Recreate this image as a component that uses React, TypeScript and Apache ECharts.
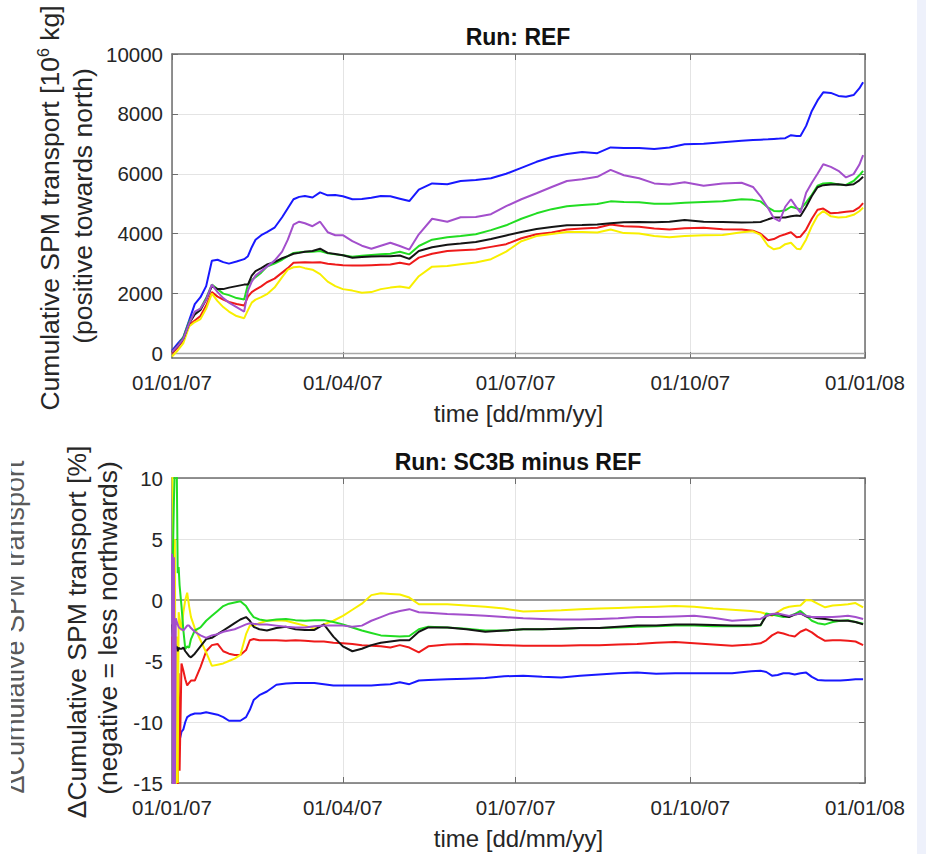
import React, { useEffect, useRef } from 'react';
import * as echarts from 'echarts';

// ---------- axis ticks ----------
const xTickDays = [0, 90, 181, 273, 365];
const xTickLabels = ['01/01/07', '01/04/07', '01/07/07', '01/10/07', '01/01/08'];
const topYTicks = [0, 2000, 4000, 6000, 8000, 10000];
const bottomYTicks = [-15, -10, -5, 0, 5, 10];

// ---------- top panel: cumulative transport (days since 01/01/07) ----------
const topDays = [0, 3, 6, 9, 12, 15, 18, 21, 24, 27,
  30, 34, 38, 40, 42, 44, 47, 50, 54, 58,
  61, 64, 67, 70, 74, 78, 82, 86, 90, 95,
  100, 105, 110, 115, 120, 125, 130, 137, 145, 152,
  160, 168, 176, 184, 192, 200, 208, 216, 224, 231,
  238, 246, 254, 262, 270, 280, 290, 300, 306, 310,
  314, 317, 320, 323, 326, 329, 331, 334, 337, 340,
  343, 347, 351, 355, 359, 362, 364];
const topBlue = [100, 330, 550, 1100, 1650, 1880, 2250, 3100, 3130, 3050,
  3000, 3070, 3150, 3250, 3550, 3800, 3950, 4050, 4200, 4550,
  4850, 5150, 5230, 5260, 5210, 5380, 5280, 5290, 5250, 5150,
  5160, 5200, 5260, 5250, 5170, 5090, 5470, 5680, 5650, 5760,
  5790, 5850, 6000, 6200, 6400, 6560, 6660, 6730, 6690, 6880,
  6860, 6860, 6830, 6880, 6990, 7000, 7050, 7100, 7130, 7140,
  7150, 7165, 7175, 7190, 7290, 7260, 7260, 7600, 8100, 8450,
  8720, 8700, 8600, 8570, 8630, 8850, 9060];
const topPurple = [50, 250, 500, 1000, 1400, 1500, 1800, 2300, 2050, 1850,
  1700, 1550, 1400, 2100, 2400, 2600, 2750, 2900, 3100, 3400,
  3800, 4300, 4400, 4350, 4250, 4400, 4050, 3950, 3950, 3750,
  3600, 3500, 3600, 3700, 3590, 3470, 3980, 4500, 4400, 4550,
  4560, 4650, 4920, 5150, 5350, 5560, 5760, 5820, 5900, 6130,
  5950, 5850, 5680, 5640, 5720, 5600, 5680, 5700, 5560, 5250,
  4850, 4520, 4420, 4900, 5150, 4870, 4700, 5370, 5700, 6000,
  6320, 6230, 6100, 5880, 5990, 6300, 6620];
const topGreen = [50, 250, 550, 1050, 1350, 1500, 1850, 2300, 2150, 2000,
  1950, 1850, 1800, 2300, 2450, 2550, 2700, 2900, 3000, 3130,
  3250, 3360, 3380, 3400, 3400, 3420, 3350, 3310, 3280, 3230,
  3260, 3290, 3310, 3330, 3400, 3310, 3590, 3800, 3880, 3920,
  3980, 4120, 4280, 4500, 4680, 4820, 4920, 4960, 4990, 5080,
  5060, 5050, 5000, 5000, 5030, 5060, 5080, 5150, 5130, 5080,
  4870, 4760, 4750, 4780, 4900, 4850, 4810, 5050, 5300, 5600,
  5680, 5690, 5640, 5630, 5760, 5950, 6100];
const topBlack = [50, 250, 500, 1000, 1300, 1450, 1800, 2250, 2150, 2150,
  2200, 2250, 2300, 2300, 2600, 2750, 2850, 2970, 3050, 3180,
  3250, 3330, 3360, 3400, 3420, 3500, 3360, 3320, 3280, 3200,
  3220, 3240, 3250, 3250, 3270, 3160, 3420, 3550, 3630, 3670,
  3720, 3820, 3940, 4060, 4160, 4220, 4280, 4290, 4310, 4350,
  4380, 4390, 4380, 4400, 4460, 4400, 4390, 4370, 4380, 4390,
  4480, 4540, 4540, 4540, 4580, 4610, 4590, 4900, 5260, 5550,
  5620, 5640, 5650, 5620, 5650, 5780, 5900];
const topRed = [0, 200, 450, 950, 1100, 1250, 1600, 2050, 1900, 1800,
  1720, 1650, 1600, 1900, 2050, 2130, 2240, 2380, 2500, 2700,
  2850, 3030, 3040, 3050, 3040, 3050, 3000, 2970, 2950, 2940,
  2940, 2950, 2960, 2970, 3030, 2970, 3200, 3330, 3420, 3450,
  3470, 3560, 3650, 3850, 3980, 4040, 4140, 4170, 4200, 4310,
  4250, 4230, 4170, 4140, 4180, 4200, 4150, 4140, 4100, 4000,
  3780, 3820, 3920, 3980, 4050, 3880, 3900, 4140, 4500, 4800,
  4840, 4680, 4700, 4730, 4760, 4880, 5020];
const topYellow = [-100, 100, 350, 900, 1050, 1150, 1500, 2000, 1750, 1550,
  1400, 1250, 1180, 1450, 1700, 1800, 1880, 1980, 2200, 2550,
  2800, 2880, 2900, 2850, 2800, 2650, 2400, 2250, 2150, 2100,
  2030, 2050, 2150, 2200, 2240, 2190, 2580, 2900, 2920, 2980,
  3040, 3150, 3400, 3750, 3920, 3990, 4060, 4060, 4040, 4140,
  4020, 4010, 3920, 3880, 3920, 3950, 3960, 4050, 4080, 3960,
  3590, 3480, 3520, 3650, 3700, 3500, 3480, 3810, 4250, 4600,
  4760, 4580, 4540, 4560, 4630, 4750, 4870];

// ---------- bottom panel: difference SC3B minus REF [%] ----------
const bottomDays = [0, 0.5, 1, 1.5, 2, 2.5, 3, 3.5, 4, 5,
  6, 7, 8, 9, 10, 12, 15, 18, 21, 24,
  27, 30, 33, 36, 39, 41, 43, 46, 50, 55,
  60, 65, 70, 75, 80, 85, 90, 95, 100, 105,
  110, 115, 120, 125, 130, 135, 145, 155, 165, 175,
  185, 195, 205, 215, 225, 235, 245, 255, 265, 275,
  285, 295, 305, 310, 313, 316, 319, 322, 325, 328,
  331, 334, 337, 340, 344, 348, 352, 356, 360, 364];
const diffBlue = [-16, -16, -16, -15, -14, -13, -12, -11.8, -11.5, -10.8,
  -10.6, -10.0, -9.6, -9.5, -9.4, -9.3, -9.3, -9.2, -9.3, -9.4,
  -9.6, -9.9, -9.9, -9.9, -9.6, -9.0, -8.2, -7.8, -7.5, -6.95,
  -6.85, -6.8, -6.8, -6.8, -6.9, -7.0, -7.0, -7.0, -7.0, -7.0,
  -6.95, -6.9, -6.75, -6.9, -6.6, -6.55, -6.5, -6.45, -6.4, -6.25,
  -6.2, -6.3, -6.35, -6.2, -6.1, -6.0, -5.95, -6.05, -6.0, -6.0,
  -6.0, -6.0, -5.85, -5.8, -5.9, -6.2, -6.15, -6.0, -6.0, -6.1,
  -6.0, -5.95, -6.3, -6.55, -6.6, -6.6, -6.6, -6.55, -6.5, -6.5];
const diffRed = [-3, -8, -12, -15, -16, -9, -16, -6, -14, -5.2,
  -5.8, -6.5, -7.0, -6.8, -6.6, -6.6, -5.5, -4.2, -3.7, -3.6,
  -4.2, -4.4, -4.5, -4.5, -4.1, -3.3, -3.2, -3.3, -3.3, -3.3,
  -3.35, -3.3, -3.35, -3.4, -3.4, -3.5, -3.55, -3.6, -3.7, -3.75,
  -3.8, -3.9, -3.7, -3.9, -4.3, -3.8, -3.65, -3.6, -3.65, -3.7,
  -3.75, -3.75, -3.75, -3.7, -3.7, -3.65, -3.6, -3.5, -3.45, -3.55,
  -3.65, -3.75, -3.65, -3.55, -3.3, -2.9, -2.65, -2.75, -2.9, -3.0,
  -2.6, -2.4, -2.65, -3.0, -3.35, -3.3, -3.3, -3.35, -3.4, -3.7];
const diffBlack = [-2, -3, -2.5, -3.5, -4, -3.8, -4.2, -3.9, -4.0, -4.0,
  -3.9, -4.2, -4.4, -4.6, -4.7, -4.4, -3.8, -3.2, -3.1, -2.8,
  -2.5, -2.2, -1.9, -1.6, -1.4, -1.7, -2.2, -2.4, -2.5, -2.3,
  -2.2, -2.4, -2.45, -2.45, -2.0, -3.0, -3.8, -4.2, -4.0, -3.7,
  -3.5, -3.4, -3.3, -3.3, -2.6, -2.25, -2.25, -2.4, -2.6, -2.5,
  -2.4, -2.4, -2.35, -2.3, -2.3, -2.2, -2.1, -2.1, -2.0, -2.0,
  -2.05, -2.1, -2.1, -2.05, -1.3, -1.2, -1.1, -1.3, -1.4, -1.2,
  -1.1, -1.35, -1.4, -1.5, -1.55, -1.65, -1.7, -1.7, -1.8, -2.0];
const diffGreen = [0, 4, 8, 11, 12, 11, 2.2, 2.7, 1.2, -0.5,
  -2.5, -4.0, -3.8, -3.9, -3.2, -2.5, -2.25, -1.7, -1.3, -0.9,
  -0.5, -0.3, -0.2, -0.1, -0.5, -1.0, -1.4, -1.6, -1.7, -1.6,
  -1.55, -1.65, -1.7, -1.65, -1.65, -1.8, -2.0, -2.25, -2.5, -2.7,
  -2.9, -2.95, -3.0, -2.95, -2.4, -2.2, -2.25, -2.35, -2.5, -2.5,
  -2.4, -2.4, -2.35, -2.3, -2.3, -2.25, -2.2, -2.15, -2.1, -2.1,
  -2.15, -2.15, -2.15, -2.1, -1.1, -1.2, -1.3, -1.4, -1.35, -1.15,
  -0.9, -1.3, -1.7, -1.9, -2.0, -1.8, -1.7, -1.65, -1.8, -1.95];
const diffPurple = [3.8, -16, 3.5, -16, -1.5, -1.8, -2.0, -2.2, -2.3, -2.4,
  -2.5, -2.3, -2.1, -2.1, -2.3, -2.6, -2.9, -3.1, -2.9, -2.8,
  -2.6, -2.5, -2.4, -2.2, -2.0, -1.9, -1.95, -2.0, -2.0, -2.1,
  -2.2, -2.25, -2.25, -2.15, -2.1, -2.1, -2.1, -2.2, -2.1, -1.7,
  -1.4, -1.1, -0.9, -0.75, -1.0, -1.05, -1.15, -1.2, -1.3, -1.4,
  -1.5, -1.55, -1.6, -1.6, -1.55, -1.5, -1.4, -1.4, -1.35, -1.3,
  -1.45, -1.7, -1.6, -1.55, -1.3, -1.15, -1.1, -1.2, -1.3, -1.2,
  -1.1, -1.3, -1.4, -1.4, -1.4, -1.4, -1.35, -1.3, -1.4, -1.55];
const diffYellow = [12, 8, -16, 5, -16, -3, -15, -1, -1.5, -2.5,
  -1.0, 0.0, 0.6, -0.5, -1.4, -2.3, -3.3, -4.3, -5.4, -5.3,
  -5.2, -5.0, -4.8, -4.5, -2.8, -2.1, -2.1, -1.9, -1.7, -1.65,
  -1.7, -1.9, -2.1, -2.35, -2.0, -1.7, -1.3, -0.8, -0.3, 0.4,
  0.55, 0.5, 0.45, 0.2, -0.35, -0.35, -0.35, -0.45, -0.55, -0.7,
  -0.95, -0.9, -0.85, -0.75, -0.7, -0.65, -0.6, -0.55, -0.5, -0.55,
  -0.7, -0.8, -0.9, -1.0, -1.15, -1.3, -1.0, -0.7, -0.55, -0.5,
  -0.45, 0.0, -0.05, -0.3, -0.6, -0.45, -0.4, -0.35, -0.25, -0.6];

const COLORS = {
  blue: '#1818ff',
  red: '#ee1a1a',
  yellow: '#f8ef00',
  green: '#22dd22',
  black: '#151515',
  purple: '#a34fcc',
};

const FONT = '"Liberation Sans", Arial, Helvetica, sans-serif';
const AXIS_COLOR = '#6e6e6e';
const GRID_COLOR = '#e4e4e4';
const LABEL_COLOR = '#262626';

function tickLabel(v: number) {
  const i = xTickDays.indexOf(Math.round(v));
  return i >= 0 ? xTickLabels[i] : '';
}

function makeXAxes(gridIndex: number) {
  return [
    {
      type: 'value', gridIndex, min: 0, max: 365, position: 'bottom',
      axisLine: { show: true, onZero: false, lineStyle: { color: AXIS_COLOR, width: 1.5 } },
      axisTick: { show: true, inside: true, length: 6, customValues: xTickDays, lineStyle: { color: AXIS_COLOR } },
      axisLabel: {
        show: true, customValues: xTickDays, formatter: (v: number) => tickLabel(v),
        fontSize: 20.5, color: LABEL_COLOR, fontFamily: FONT, margin: 14,
      },
      splitLine: { show: true, lineStyle: { color: GRID_COLOR, width: 1 } },
      name: 'time [dd/mm/yy]', nameLocation: 'middle', nameGap: 43,
      nameTextStyle: { fontSize: 24, color: LABEL_COLOR, fontFamily: FONT },
    },
    {
      type: 'value', gridIndex, min: 0, max: 365, position: 'top',
      axisLine: { show: true, onZero: false, lineStyle: { color: AXIS_COLOR, width: 1.5 } },
      axisTick: { show: true, inside: true, length: 6, customValues: xTickDays, lineStyle: { color: AXIS_COLOR } },
      axisLabel: { show: false },
      splitLine: { show: false },
    },
  ];
}

function makeYAxes(gridIndex: number, min: number, max: number, ticks: number[]) {
  return [
    {
      type: 'value', gridIndex, min, max, position: 'left',
      axisLine: { show: true, onZero: false, lineStyle: { color: AXIS_COLOR, width: 1.5 } },
      axisTick: { show: true, inside: true, length: 6, customValues: ticks, lineStyle: { color: AXIS_COLOR } },
      axisLabel: {
        show: true, customValues: ticks, formatter: (v: number) => String(v),
        fontSize: 20.5, color: LABEL_COLOR, fontFamily: FONT, margin: 9,
      },
      splitLine: { show: true, lineStyle: { color: GRID_COLOR, width: 1 } },
    },
    {
      type: 'value', gridIndex, min, max, position: 'right',
      axisLine: { show: true, onZero: false, lineStyle: { color: AXIS_COLOR, width: 1.5 } },
      axisTick: { show: true, inside: true, length: 6, customValues: ticks, lineStyle: { color: AXIS_COLOR } },
      axisLabel: { show: false },
      splitLine: { show: false },
    },
  ];
}

function lineSeries(name: string, days: number[], vals: number[], color: string, axisIdx: number) {
  return {
    type: 'line', name,
    xAxisIndex: axisIdx, yAxisIndex: axisIdx,
    data: days.map((d, i) => [d, vals[i]]),
    showSymbol: false, symbol: 'none', silent: true, clip: true,
    lineStyle: { color, width: 2 },
    itemStyle: { color },
  };
}

function zeroLine(axisIdx: number, color: string, width: number) {
  return {
    type: 'line', name: 'zero', xAxisIndex: axisIdx, yAxisIndex: axisIdx,
    data: [[0, 0], [365, 0]], showSymbol: false, symbol: 'none', silent: true,
    lineStyle: { color, width }, z: 1,
  };
}

function buildOption() {
  const topSets: [string, number[], string][] = [
    ['Blue', topBlue, COLORS.blue],
    ['Red', topRed, COLORS.red],
    ['Yellow', topYellow, COLORS.yellow],
    ['Green', topGreen, COLORS.green],
    ['Black', topBlack, COLORS.black],
    ['Purple', topPurple, COLORS.purple],
  ];
  const bottomSets: [string, number[], string][] = [
    ['Blue', diffBlue, COLORS.blue],
    ['Red', diffRed, COLORS.red],
    ['Yellow', diffYellow, COLORS.yellow],
    ['Green', diffGreen, COLORS.green],
    ['Black', diffBlack, COLORS.black],
    ['Purple', diffPurple, COLORS.purple],
  ];

  const yLabelRich = {
    a: { fontSize: 26.5, fontFamily: FONT, fill: LABEL_COLOR, lineHeight: 30 },
    s: { fontSize: 16, fontFamily: FONT, fill: LABEL_COLOR, verticalAlign: 'top', lineHeight: 16 },
  };

  return {
    animation: false,
    backgroundColor: '#ffffff',
    grid: [
      { left: 172, top: 54, width: 693, height: 304, containLabel: false },
      { left: 172, top: 478, width: 693, height: 305, containLabel: false },
    ],
    xAxis: [...makeXAxes(0), ...makeXAxes(1)].map((a, i) => ({ ...a, gridIndex: i < 2 ? 0 : 1 })),
    yAxis: [
      ...makeYAxes(0, -150, 10000, topYTicks),
      ...makeYAxes(1, -15, 10, bottomYTicks),
    ],
    series: [
      zeroLine(0, '#a8a8a8', 1.5),
      ...topSets.map(([n, v, c]) => lineSeries(n, topDays, v, c, 0)),
      zeroLine(2, '#9c9c9c', 2),
      ...bottomSets.map(([n, v, c]) => lineSeries(n, bottomDays, v, c, 2)),
    ],
    graphic: [
      { type: 'rect', shape: { x: 917, y: 0, width: 9, height: 854 }, style: { fill: '#eef1fb' }, silent: true },
      {
        type: 'text', x: 518, y: 37,
        style: { text: 'Run: REF', fontSize: 23, fontWeight: 'bold', fontFamily: FONT, fill: '#111', align: 'center', verticalAlign: 'middle' },
      },
      {
        type: 'text', x: 518, y: 462,
        style: { text: 'Run: SC3B minus REF', fontSize: 23, fontWeight: 'bold', fontFamily: FONT, fill: '#111', align: 'center', verticalAlign: 'middle' },
      },
      {
        type: 'text', x: 50, y: 208, rotation: Math.PI / 2,
        style: { text: '{a|Cumulative SPM transport [10}{s|6}{a| kg]}', rich: yLabelRich, align: 'center', verticalAlign: 'middle' },
      },
      {
        type: 'text', x: 83, y: 206, rotation: Math.PI / 2,
        style: { text: '(positive towards north)', fontSize: 26.5, fontFamily: FONT, fill: LABEL_COLOR, align: 'center', verticalAlign: 'middle' },
      },
      {
        type: 'text', x: 77, y: 632, rotation: Math.PI / 2,
        style: { text: '\u0394Cumulative SPM transport [%]', fontSize: 26.5, fontFamily: FONT, fill: LABEL_COLOR, align: 'center', verticalAlign: 'middle' },
      },
      {
        type: 'text', x: 108, y: 628, rotation: Math.PI / 2,
        style: { text: '(negative = less northwards)', fontSize: 26.5, fontFamily: FONT, fill: LABEL_COLOR, align: 'center', verticalAlign: 'middle' },
      },
      {
        type: 'text', x: 15, y: 627, rotation: Math.PI / 2,
        style: { text: '\u0394Cumulative SPM transport', fontSize: 27, fontFamily: FONT, fill: '#5a5a5a', align: 'center', verticalAlign: 'middle' },
      },
      { type: 'rect', shape: { x: 0, y: 440, width: 11, height: 370 }, style: { fill: '#ffffff' }, silent: true, z: 200 },
    ],
  };
}

export default function App() {
  const ref = useRef<HTMLDivElement>(null);
  useEffect(() => {
    if (!ref.current) return;
    const chart = echarts.init(ref.current, null, { renderer: 'svg', width: 926, height: 854 });
    chart.setOption(buildOption() as any);
    return () => chart.dispose();
  }, []);
  return (
    <div
      ref={ref}
      style={{ position: 'absolute', left: 0, top: 0, width: 926, height: 854, background: '#ffffff' }}
    />
  );
}
